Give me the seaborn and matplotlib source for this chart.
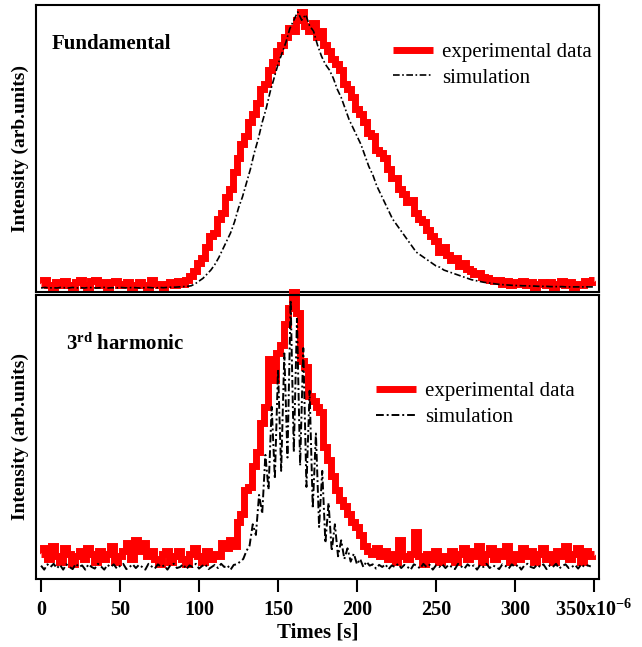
import matplotlib
matplotlib.use("Agg")
import matplotlib.pyplot as plt
import numpy as np
import seaborn as sns

# time grids (microseconds)
t_fund = np.arange(0, 350.1, 2.5)
t_harm = np.arange(0, 350.1, 2.5)
t_harm_sim = np.arange(0, 348.1, 2.0)

fund_exp = [
    0.015, 0.03, 0.01, 0.005, 0.02, 0.01, 0.025, 0.01, 0.005, 0.02,
    0.03, 0.01, 0.005, 0.025, 0.03, 0.01, 0.02, 0.005, 0.02, 0.025,
    0.01, 0.015, 0.02, 0.005, 0.01, 0.02, 0.01, 0.005, 0.03, 0.015,
    0.01, 0.005, 0.015, 0.02, 0.01, 0.025, 0.015, 0.03, 0.045, 0.06,
    0.09, 0.11, 0.15, 0.19, 0.2, 0.25, 0.27, 0.33, 0.36, 0.42,
    0.47, 0.52, 0.55, 0.6, 0.63, 0.67, 0.72, 0.74, 0.79, 0.82,
    0.86, 0.88, 0.91, 0.94, 0.93, 0.97, 1.0, 0.95, 0.93, 0.96,
    0.91, 0.93, 0.88, 0.86, 0.83, 0.81, 0.79, 0.74, 0.72, 0.69,
    0.65, 0.63, 0.6, 0.56, 0.55, 0.5, 0.49, 0.47, 0.43, 0.4,
    0.4, 0.36, 0.34, 0.31, 0.32, 0.27, 0.25, 0.24, 0.21, 0.19,
    0.17, 0.13, 0.15, 0.12, 0.1, 0.11, 0.08, 0.09, 0.07, 0.06,
    0.05, 0.055, 0.04, 0.035, 0.03, 0.025, 0.03, 0.015, 0.025, 0.01,
    0.02, 0.015, 0.025, 0.01, 0.02, 0.005, 0.015, 0.02, 0.01, 0.02,
    0.005, 0.015, 0.025, 0.01, 0.02, 0.005, 0.015, 0.01, 0.025, 0.02,
    0.03,
]

fund_sim = [
    0.0, 0.002, 0.0, 0.001, 0.0, 0.002, 0.001, 0.0, 0.002, 0.0,
    0.001, 0.0, 0.002, 0.001, 0.0, 0.001, 0.002, 0.0, 0.001, 0.0,
    0.002, 0.001, 0.0, 0.002, 0.001, 0.0, 0.001, 0.002, 0.001, 0.0,
    0.002, 0.001, 0.002, 0.003, 0.003, 0.004, 0.005, 0.006, 0.008, 0.015,
    0.025, 0.035, 0.05, 0.065, 0.085, 0.11, 0.14, 0.17, 0.2, 0.24,
    0.29, 0.33, 0.38, 0.43, 0.49, 0.54, 0.6, 0.65, 0.71, 0.76,
    0.81, 0.85, 0.89, 0.94, 0.97, 1.0, 0.97, 0.99, 0.95, 0.93,
    0.88, 0.84, 0.81, 0.79, 0.76, 0.72, 0.69, 0.65, 0.61, 0.58,
    0.55, 0.52, 0.48, 0.44, 0.41, 0.37, 0.34, 0.31, 0.28, 0.25,
    0.23, 0.21, 0.19, 0.17, 0.15, 0.13, 0.12, 0.11, 0.1, 0.09,
    0.08, 0.075, 0.065, 0.06, 0.055, 0.05, 0.045, 0.04, 0.035, 0.03,
    0.027, 0.024, 0.021, 0.019, 0.017, 0.015, 0.013, 0.012, 0.011, 0.01,
    0.009, 0.009, 0.008, 0.008, 0.007, 0.007, 0.006, 0.006, 0.006, 0.005,
    0.005, 0.005, 0.005, 0.004, 0.004, 0.004, 0.004, 0.004, 0.004, 0.004,
    0.004,
]

harm_exp = [
    0.05, 0.07, 0.03, 0.08, 0.04, 0.02, 0.07, 0.05, 0.01, 0.04,
    0.06, 0.03, 0.07, 0.05, 0.02, 0.06, 0.03, 0.05, 0.08, 0.02,
    0.04, 0.06, 0.09, 0.03, 0.1, 0.06, 0.09, 0.04, 0.06, 0.03,
    0.01, 0.05, 0.06, 0.02, 0.04, 0.06, 0.03, 0.01, 0.05, 0.07,
    0.04, 0.02, 0.06, 0.03, 0.05, 0.04, 0.09, 0.07, 0.1, 0.08,
    0.17, 0.2, 0.29, 0.3, 0.38, 0.43, 0.54, 0.6, 0.78, 0.7,
    0.8, 0.83, 0.91, 0.97, 1.03, 0.95, 0.77, 0.75, 0.64, 0.62,
    0.6, 0.58, 0.45, 0.4, 0.34, 0.29, 0.25, 0.23, 0.2, 0.17,
    0.15, 0.12, 0.08, 0.06, 0.05, 0.07, 0.04, 0.06, 0.03, 0.05,
    0.02, 0.1, 0.04, 0.03, 0.05, 0.13, 0.04, 0.01, 0.05, 0.03,
    0.06, 0.02, 0.04, 0.03, 0.06, 0.02, 0.05, 0.07, 0.03, 0.06,
    0.04, 0.08, 0.02, 0.05, 0.07, 0.03, 0.06, 0.04, 0.08, 0.02,
    0.05, 0.03, 0.07, 0.04, 0.06, 0.02, 0.05, 0.07, 0.03, 0.05,
    0.02, 0.06, 0.04, 0.08, 0.03, 0.05, 0.07, 0.02, 0.06, 0.04,
    0.05,
]

harm_sim = [
    0.005, -0.01, 0.01, 0.0, 0.012, -0.005, 0.008, -0.01, 0.01, 0.0,
    -0.008, 0.012, 0.0, 0.006, -0.01, 0.01, 0.0, -0.006, 0.012, 0.002,
    -0.01, 0.008, 0.0, 0.01, -0.006, 0.004, 0.012, -0.008, 0.0, 0.01,
    -0.004, 0.008, 0.0, -0.01, 0.012, 0.002, -0.006, 0.01, 0.0, 0.006,
    -0.01, 0.008, 0.012, -0.004, 0.0, 0.01, -0.008, 0.006, 0.0, 0.012,
    -0.006, 0.004, 0.01, -0.008, 0.0, 0.008, -0.004, 0.012, 0.0, 0.006,
    -0.01, 0.008, 0.01, 0.02, 0.03, 0.06, 0.08, 0.16, 0.12, 0.27,
    0.2, 0.42, 0.29, 0.6, 0.33, 0.74, 0.36, 0.8, 0.41, 1.0,
    0.43, 0.93, 0.38, 0.82, 0.3, 0.66, 0.22, 0.5, 0.15, 0.36,
    0.09, 0.24, 0.06, 0.16, 0.04, 0.1, 0.03, 0.07, 0.02, 0.05,
    0.01, 0.03, 0.0, 0.02, 0.005, 0.01, -0.006, 0.008, 0.0, 0.01,
    -0.008, 0.006, 0.0, 0.012, -0.004, 0.008, 0.0, -0.01, 0.01, 0.004,
    -0.006, 0.012, 0.0, 0.008, -0.01, 0.006, 0.0, 0.01, -0.004, 0.008,
    0.0, -0.008, 0.012, 0.002, -0.006, 0.01, 0.0, 0.006, -0.01, 0.008,
    0.0, 0.012, -0.004, 0.006, 0.0, -0.008, 0.01, 0.004, -0.006, 0.01,
    0.0, 0.008, -0.01, 0.006, 0.012, 0.0, -0.004, 0.008, 0.0, 0.01,
    -0.008, 0.006, 0.0, 0.012, -0.006, 0.004, 0.01, -0.004, 0.0, 0.008,
    -0.006, 0.01, 0.0, 0.006, 0.002,
]

xtick_vals = [0, 50, 100, 150, 200, 250, 300, 350]
xtick_text = ["0", "50", "100", "150", "200", "250", "300", r"350x10$^{-6}$"]

sns.set_theme(style="white")
plt.rcParams["font.family"] = ["Liberation Serif", "DejaVu Serif"]
plt.rcParams["text.color"] = "black"
plt.rcParams["axes.labelcolor"] = "black"
plt.rcParams["xtick.color"] = "black"
plt.rcParams["mathtext.fontset"] = "custom"
plt.rcParams["mathtext.rm"] = "Liberation Serif:bold"
plt.rcParams["mathtext.it"] = "Liberation Serif:bold"
plt.rcParams["mathtext.bf"] = "Liberation Serif:bold"

RED = "#ff0000"
SIM_DASH = (0, (4, 1.5, 1, 1.5))

fig = plt.figure(figsize=(6.42, 6.47), dpi=100)
ax1 = fig.add_axes([36 / 642, 1 - 292 / 647, 563 / 642, 287 / 647])
ax2 = fig.add_axes([36 / 642, 1 - 579 / 647, 563 / 642, 284 / 647])

exp_style = dict(color=RED, lw=5, drawstyle="steps-mid",
                 solid_joinstyle="miter", solid_capstyle="butt")

sns.lineplot(x=t_fund, y=fund_exp, ax=ax1, label="experimental data",
             **exp_style)
sns.lineplot(x=t_fund, y=fund_sim, ax=ax1, color="black", lw=1.2,
             linestyle=SIM_DASH, label="simulation")

sns.lineplot(x=t_harm, y=harm_exp, ax=ax2, label="experimental data",
             clip_on=False, **exp_style)
sns.lineplot(x=t_harm_sim, y=harm_sim, ax=ax2, color="black", lw=1.4,
             linestyle=SIM_DASH, label="simulation")

for ax in (ax1, ax2):
    ax.set_xlim(-3.2, 353.2)
    ax.set_yticks([])
    for sp in ax.spines.values():
        sp.set_linewidth(1.5)
        sp.set_color("black")
    ax.set_ylabel("Intensity (arb.units)", fontsize=14, fontweight="bold",
                  labelpad=5)

ax1.set_ylim(-0.0145, 1.025)
ax2.set_ylim(-0.045, 1.019)

ax1.set_xticks([])
ax2.set_xticks(xtick_vals)
ax2.set_xticklabels(xtick_text, fontsize=14.5, fontweight="bold")
ax2.tick_params(axis="x", direction="out", length=9, width=1.5,
                bottom=True, pad=6, colors="black")
ax2.set_xlabel("Times [s]", fontsize=15, fontweight="bold", labelpad=1)

ax1.text(0.028, 0.865, "Fundamental", transform=ax1.transAxes,
         fontsize=15, fontweight="bold", va="center", ha="left")
ax2.text(0.053, 0.825, r"3$^{\mathrm{rd}}$ harmonic", transform=ax2.transAxes,
         fontsize=15, fontweight="bold", va="center", ha="left")

ax1.legend(loc="upper left", bbox_to_anchor=(0.634, 0.87), frameon=False,
           fontsize=15, handlelength=1.9, handletextpad=0.45,
           labelspacing=0.3, borderpad=0, borderaxespad=0)
ax2.legend(loc="upper left", bbox_to_anchor=(0.604, 0.695), frameon=False,
           fontsize=15, handlelength=1.9, handletextpad=0.45,
           labelspacing=0.3, borderpad=0, borderaxespad=0)

fig.savefig("out.png", dpi=100)
